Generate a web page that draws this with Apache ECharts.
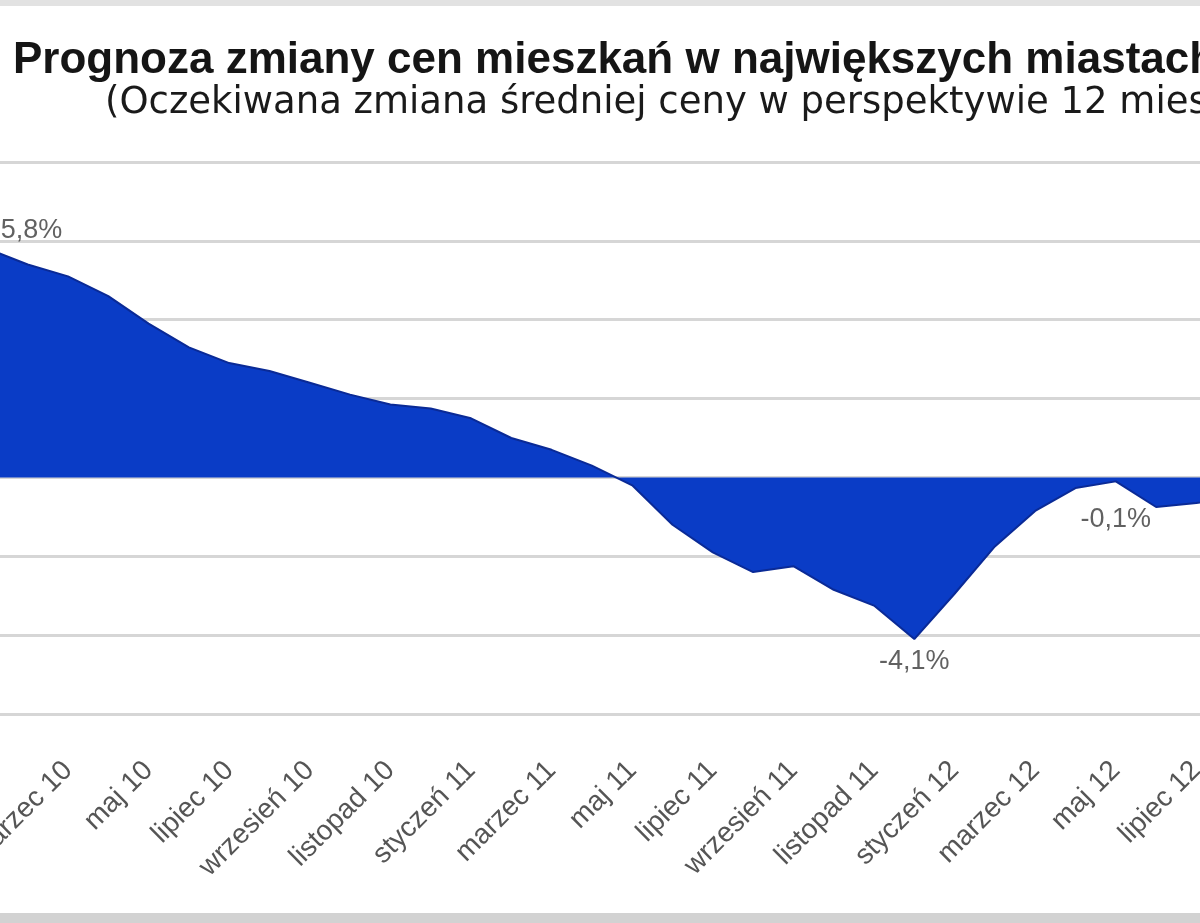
<!DOCTYPE html>
<html>
<head>
<meta charset="utf-8">
<script src="https://cdn.jsdelivr.net/npm/echarts@6/dist/echarts.min.js"></script>
<style>
html,body{margin:0;padding:0;background:#fff;}
#chart{width:1200px;height:923px;}
</style>
</head>
<body>
<div id="chart"></div>
<script>
// ---- data ----
const titleText = 'Prognoza zmiany cen mieszkań w największych miastach';
const subtitleText = '(Oczekiwana zmiana średniej ceny w perspektywie 12 miesięcy)';
const categories = [
  'styczeń 10','luty 10','marzec 10','kwiecień 10','maj 10','czerwiec 10',
  'lipiec 10','sierpień 10','wrzesień 10','październik 10','listopad 10','grudzień 10',
  'styczeń 11','luty 11','marzec 11','kwiecień 11','maj 11','czerwiec 11',
  'lipiec 11','sierpień 11','wrzesień 11','październik 11','listopad 11','grudzień 11',
  'styczeń 12','luty 12','marzec 12','kwiecień 12','maj 12','czerwiec 12',
  'lipiec 12','sierpień 12'
];
const values = [
  5.8, 5.4, 5.1, 4.6, 3.9, 3.3,
  2.9, 2.7, 2.4, 2.1, 1.85, 1.75,
  1.5, 1.0, 0.7, 0.3, -0.2, -1.2,
  -1.9, -2.4, -2.25, -2.85, -3.25, -4.1,
  -2.95, -1.75, -0.85, -0.27, -0.1, -0.75,
  -0.65, -0.5
];
const labelledIdx = [0, 23, 28];
const yTicks = { min: -6, max: 8, interval: 2 };

// ---- chart ----
const fmt = v => v.toFixed(1).replace('.', ',') + '%';
const labelPlacement = {
  0:  { position: 'top', distance: 4, offset: [44, 0] },
  23: { position: 'bottom', distance: 8 },
  28: { position: 'bottom', distance: 24 }
};
const labelData = labelledIdx.map(i => ({
  value: [categories[i], values[i]],
  label: Object.assign({ show: true }, labelPlacement[i] || {})
}));

const chart = echarts.init(document.getElementById('chart'), null, { renderer: 'canvas' });
chart.setOption({
  animation: false,
  backgroundColor: '#ffffff',
  title: [
    { text: titleText, left: 8, top: 34,
      textStyle: { fontFamily: 'Liberation Sans', fontWeight: 'bold', fontSize: 44, color: '#151515' } },
    { text: subtitleText, left: 100, top: 80,
      textStyle: { fontFamily: 'DejaVu Sans', fontWeight: 'normal', fontSize: 37, color: '#1a1a1a' } }
  ],
  graphic: [
    { type: 'rect', left: 0, top: 0, shape: { width: 1200, height: 6 }, style: { fill: '#e2e2e2' } },
    { type: 'rect', left: 0, top: 913, shape: { width: 1200, height: 10 }, style: { fill: '#d2d2d2' } }
  ],
  grid: { left: -12.6, right: -36.7, top: 162, bottom: 209, containLabel: false, outerBoundsMode: 'none' },
  xAxis: {
    type: 'category',
    data: categories,
    boundaryGap: false,
    axisLine: { show: true, lineStyle: { color: '#d6d6d6', width: 3 } },
    axisTick: { show: false },
    axisLabel: { interval: 1, rotate: 45, margin: 52, fontFamily: 'Liberation Sans', fontSize: 28, color: '#555555' },
    splitLine: { show: false }
  },
  yAxis: {
    type: 'value',
    min: yTicks.min, max: yTicks.max, interval: yTicks.interval,
    axisLabel: { show: false },
    axisLine: { show: false },
    axisTick: { show: false },
    splitLine: { show: true, lineStyle: { color: '#d6d6d6', width: 3 } }
  },
  series: [
    {
      type: 'line',
      data: values,
      symbol: 'none',
      smooth: false,
      lineStyle: { color: '#0a2a96', width: 2 },
      areaStyle: { color: '#0a3cc6', opacity: 1 },
      z: 2
    },
    {
      type: 'scatter',
      data: labelData,
      symbolSize: 1,
      itemStyle: { color: 'rgba(0,0,0,0)' },
      label: {
        formatter: p => fmt(p.value[1]),
        fontFamily: 'Liberation Sans', fontSize: 27, color: '#3a3a3a'
      },
      z: 5
    }
  ]
});
</script>
</body>
</html>
